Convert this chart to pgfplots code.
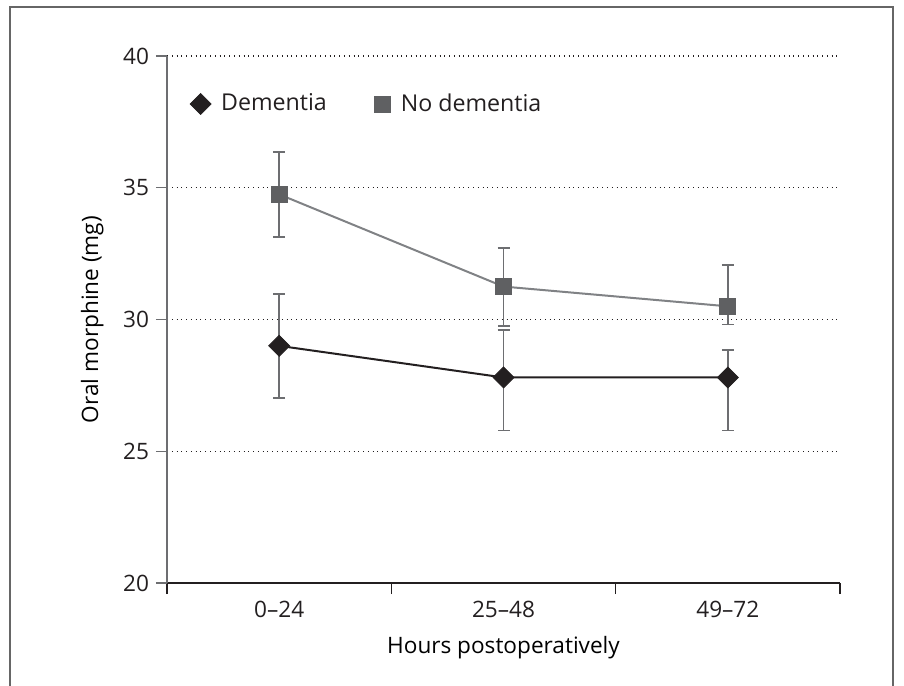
\documentclass[border=0pt]{standalone}
\usepackage{fontspec}
\setmainfont{Open Sans}
\usepackage{pgfplots}
\pgfplotsset{compat=1.18}
\definecolor{txt}{HTML}{231F20}
\definecolor{errc}{HTML}{6D6E71}
\definecolor{nodem}{HTML}{808285}
\definecolor{sqf}{HTML}{5F6062}
\begin{document}
\begin{tikzpicture}[font=\fontsize{11.3bp}{13bp}\selectfont]
\path[use as bounding box] (0,0) rectangle (452bp,343bp);
\draw[line width=0.8bp, color=gray!80!black] (5bp,0) -- (5bp,339.5bp) -- (446.5bp,339.5bp) -- (446.5bp,0);
\begin{axis}[
  at={(83.5bp,51.5bp)}, anchor=south west,
  scale only axis, width=336.5bp, height=263.5bp,
  xmin=-0.5, xmax=2.5, ymin=20, ymax=40,
  axis x line=bottom, axis y line=left,
  axis line style={-},
  x axis line style={color=txt, line width=0.9bp},
  y axis line style={color=errc, line width=0.8bp},
  xtick={-0.5,0.5,1.5,2.5}, x tick label as interval,
  xticklabels={0–24,25–48,49–72},
  ytick={20,25,30,35,40},
  tick align=outside, major tick length=5.5bp,
  xtick style={color=txt, line width=0.7bp},
  ytick style={color=errc, line width=0.7bp},
  ymajorgrids, grid style={dotted, color=txt, line width=0.6bp},
  /pgf/number format/assume math mode=true,
  tick label style={text=txt, font=\fontsize{11.3bp}{13bp}\selectfont},
  label style={text=txt, font=\fontsize{11.3bp}{13bp}\selectfont},
  xlabel={Hours postoperatively},
  ylabel={Oral morphine (mg)},
  every axis x label/.style={at={(axis description cs:0.5,-0.123)}, anchor=center},
  every axis y label/.style={at={(axis description cs:-0.111,0.5)}, anchor=center, rotate=90},
  legend columns=2,
  legend style={draw=none, fill=none, at={(axis description cs:0.025,0.909)}, anchor=west,
    font=\fontsize{11.6bp}{13bp}\selectfont, text=txt,
    /tikz/every odd column/.append style={column sep=3bp},
    /tikz/every even column/.append style={column sep=22bp}},
  legend cell align=left,
]
\addplot[color=txt, line width=1bp, forget plot] coordinates {(0,29.0) (1,27.8) (2,27.8)};
\addplot[color=nodem, line width=1bp, forget plot] coordinates {(0,34.75) (1,31.25) (2,30.5)};
\addplot[only marks, mark=square*, mark size=3.7bp,
  mark options={rotate=45, fill=txt, draw=txt},
  error bars/.cd, y dir=both, y explicit,
  error bar style={color=errc, line width=0.8bp},
  error mark options={rotate=90, color=errc, mark size=3bp, line width=0.8bp}]
  coordinates {
  (0,29.0) += (0,1.97) -= (0,1.97)
  (1,27.8) += (0,1.8) -= (0,2.02)
  (2,27.8) += (0,1.04) -= (0,2.02)
  };
\addlegendentry{Dementia}
\addplot[only marks, mark=square*, mark size=4bp,
  mark options={fill=sqf, draw=sqf},
  error bars/.cd, y dir=both, y explicit,
  error bar style={color=errc, line width=0.8bp},
  error mark options={rotate=90, color=errc, mark size=3bp, line width=0.8bp}]
  coordinates {
  (0,34.75) += (0,1.61) -= (0,1.61)
  (1,31.25) += (0,1.46) -= (0,1.49)
  (2,30.5) += (0,1.57) -= (0,0.69)
  };
\addlegendentry{No dementia}
\end{axis}
\end{tikzpicture}
\end{document}
